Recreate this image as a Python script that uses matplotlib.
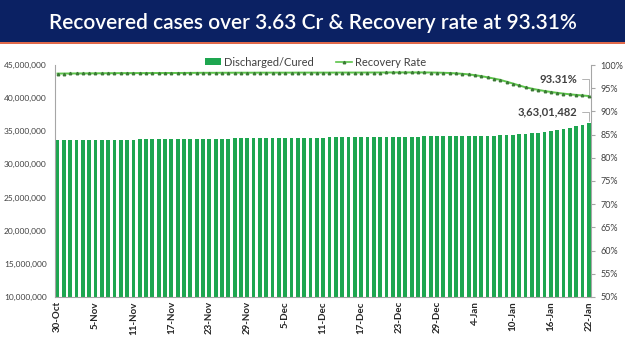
import matplotlib
matplotlib.use("Agg")
import matplotlib.pyplot as plt
from matplotlib.patches import Rectangle, Patch
from matplotlib.lines import Line2D
from matplotlib.ticker import FuncFormatter, MultipleLocator

plt.rcParams['font.family'] = ['Lato', 'DejaVu Sans']

title = "Recovered cases over 3.63 Cr & Recovery rate at 93.31%"

# Daily dates 30-Oct .. 22-Jan
months = [("Oct", 30, 31), ("Nov", 1, 30), ("Dec", 1, 31), ("Jan", 1, 22)]
dates = [f"{d}-{m}" for m, a, b in months for d in range(a, b + 1)]

# Discharged/Cured (millions)
cured_oct = [33.64, 33.65]
cured_nov = [33.66, 33.67, 33.68, 33.69, 33.70, 33.71, 33.72, 33.73, 33.74, 33.75,
             33.76, 33.77, 33.78, 33.79, 33.80, 33.81, 33.82, 33.83, 33.84, 33.85,
             33.86, 33.87, 33.88, 33.89, 33.90, 33.91, 33.92, 33.93, 33.94, 33.95]
cured_dec = [33.96, 33.97, 33.98, 33.99, 34.00, 34.01, 34.02, 34.03, 34.04, 34.05,
             34.06, 34.07, 34.08, 34.09, 34.10, 34.11, 34.12, 34.13, 34.14, 34.15,
             34.16, 34.17, 34.18, 34.19, 34.20, 34.21, 34.22, 34.23, 34.24, 34.25,
             34.26]
cured_jan = [34.27, 34.28, 34.29, 34.30, 34.31, 34.33, 34.35, 34.38, 34.42, 34.47,
             34.53, 34.60, 34.69, 34.80, 34.92, 35.05, 35.20, 35.37, 35.56, 35.77,
             36.00, 36.301482]
cured = cured_oct + cured_nov + cured_dec + cured_jan

# Recovery rate (%)
rate_oct = [98.15, 98.16]
rate_nov = [98.17, 98.18, 98.19, 98.20, 98.21, 98.22, 98.23, 98.24, 98.25, 98.25,
            98.26, 98.26, 98.26, 98.27, 98.27, 98.28, 98.28, 98.28, 98.29, 98.30,
            98.31, 98.32, 98.32, 98.32, 98.33, 98.33, 98.34, 98.34, 98.34, 98.34]
rate_dec = [98.35, 98.35, 98.35, 98.35, 98.35, 98.35, 98.36, 98.36, 98.36, 98.36,
            98.36, 98.36, 98.37, 98.37, 98.37, 98.37, 98.37, 98.38, 98.38, 98.38,
            98.39, 98.40, 98.40, 98.40, 98.40, 98.40, 98.40, 98.38, 98.36, 98.32,
            98.28]
rate_jan = [98.20, 98.10, 97.98, 97.81, 97.60, 97.35, 97.08, 96.80, 96.40, 96.01,
            95.59, 95.20, 94.90, 94.63, 94.40, 94.19, 94.00, 93.83, 93.69, 93.55,
            93.44, 93.31]
rate = rate_oct + rate_nov + rate_dec + rate_jan

label_cured = "3,63,01,482"
label_rate = "93.31%"

x = list(range(len(dates)))

W, H = 625, 351
fig = plt.figure(figsize=(W / 100, H / 100), dpi=100)

# Title banner
fig.patches.append(Rectangle((0, 1 - 42 / H), 1, 42 / H, transform=fig.transFigure,
                             facecolor='#0b2163', edgecolor='none', zorder=0))
fig.patches.append(Rectangle((0, 1 - 44 / H), 1, 2 / H, transform=fig.transFigure,
                             facecolor='#e0694a', edgecolor='none', zorder=0))
fig.text(0.5, 1 - 23 / H, title, color='white', fontsize=15, fontweight='semibold',
         ha='center', va='center')

ax = fig.add_axes([55 / W, 1 - 297 / H, (591 - 55) / W, (297 - 65) / H])
bar_color = '#1ea650'
ax.bar(x, [c * 1e6 for c in cured], width=0.6, color=bar_color, zorder=2)
ax.set_ylim(10e6, 45e6)
ax.set_xlim(-0.4, 84.35)
ax.yaxis.set_major_locator(MultipleLocator(5e6))
ax.yaxis.set_major_formatter(FuncFormatter(lambda v, p: f"{int(v):,}"))
ax.set_xticks(x[::6])
ax.set_xticklabels(dates[::6], rotation=90, fontsize=7, fontweight='bold', color='#262626')
ax.tick_params(axis='y', labelsize=6, labelcolor='#404040', length=0, pad=6)
ax.tick_params(axis='x', length=0, pad=3)
for s in ['top', 'right']:
    ax.spines[s].set_visible(False)
for s in ['left', 'bottom']:
    ax.spines[s].set_color('#a6a6a6')
    ax.spines[s].set_linewidth(0.8)

ax2 = ax.twinx()
line_color = '#5cc44a'
ax2.plot(x, rate, color=line_color, lw=1.4, marker='^', markersize=1.8,
         markerfacecolor='#3b7a35', markeredgecolor='#3b7a35', zorder=3)
ax2.set_ylim(50, 100)
ax2.yaxis.set_major_locator(MultipleLocator(5))
ax2.yaxis.set_major_formatter(FuncFormatter(lambda v, p: f"{int(v)}%"))
ax2.tick_params(axis='y', labelsize=6.5, labelcolor='#404040', length=3,
                color='#a6a6a6', pad=4)
for s in ['top', 'left', 'bottom']:
    ax2.spines[s].set_visible(False)
ax2.spines['right'].set_color('#a6a6a6')
ax2.spines['right'].set_linewidth(0.8)

# Annotations
ax2.annotate(label_rate, xy=(x[-1], rate[-1]), xytext=(-8, 12), textcoords='offset points',
             ha='right', va='center', fontsize=8, fontweight='bold', color='#404040',
             arrowprops=dict(arrowstyle='-', color='#a6a6a6', lw=0.6,
                             shrinkA=1, shrinkB=1,
                             connectionstyle='angle,angleA=0,angleB=90,rad=0'))
ax.annotate(label_cured, xy=(x[-1], cured[-1] * 1e6), xytext=(-8, 8), textcoords='offset points',
            ha='right', va='center', fontsize=8, fontweight='bold', color='#404040',
            arrowprops=dict(arrowstyle='-', color='#a6a6a6', lw=0.6,
                            shrinkA=1, shrinkB=1,
                            connectionstyle='angle,angleA=0,angleB=90,rad=0'))

handles = [Patch(facecolor=bar_color, edgecolor='none'),
           Line2D([0], [0], color=line_color, lw=1.2, marker='^', markersize=1.8,
                  markerfacecolor='#3b7a35', markeredgecolor='#3b7a35')]
fig.legend(handles, ["Discharged/Cured", "Recovery Rate"], loc='center',
           bbox_to_anchor=(0.505, 1 - 62 / H), ncol=2, frameon=False, fontsize=8,
           labelcolor='#404040', handlelength=1.4, handletextpad=0.3, columnspacing=2.0,
           handleheight=0.6)

fig.savefig("out.png", dpi=100)
